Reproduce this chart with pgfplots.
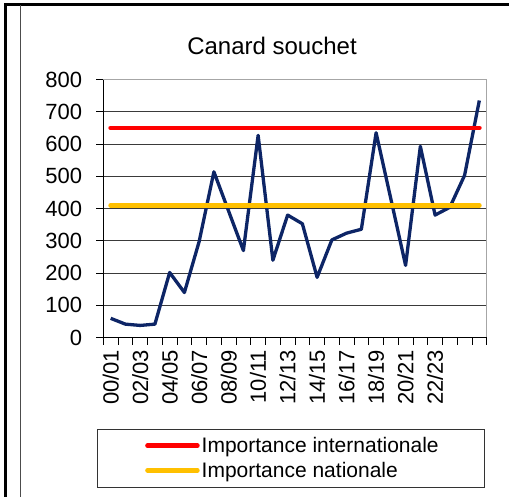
\documentclass[border=0pt]{standalone}
\usepackage{pgfplots}
\pgfplotsset{compat=1.18}
\usepackage{fontspec}
\setmainfont{Liberation Sans}
\definecolor{navy}{HTML}{0D2566}
\definecolor{gold}{HTML}{FFC000}
\definecolor{gridc}{HTML}{3A3A3A}
\pgfplotstableread{
i v
0 60
1 42
2 38
3 42
4 202
5 140
6 298
7 514
8 392
9 270
10 627
11 240
12 380
13 353
14 187
15 303
16 324
17 336
18 635
19 430
20 224
21 593
22 380
23 404
24 503
25 735
}\souchet
\pgfplotstableread{
i v
0 650
25 650
}\intl
\pgfplotstableread{
i v
0 410
25 410
}\natl
\begin{document}
\begin{tikzpicture}[x=1pt,y=1pt]
\useasboundingbox (0,0) rectangle (509,497);
\draw[black, line width=2.6pt] (5.3,0) -- (5.3,492.5);
\draw[black, line width=2.6pt] (4,492.5) -- (509,492.5);
\draw[gray!60!black, line width=1pt] (20,0) -- (20,492);
\node[font=\fontsize{24}{29}\selectfont] at (272,451) {Canard souchet};
\draw[gray!40!black, line width=1pt] (97,9) rectangle (484,67);
\begin{axis}[
  at={(103.3pt,159.3pt)}, anchor=south west,
  scale only axis, width=383.4pt, height=258.2pt,
  xmin=-0.5, xmax=25.5, ymin=0, ymax=800,
  ytick={0,100,...,800},
  xtick={0,2,...,22},
  xticklabels={00/01,02/03,04/05,06/07,08/09,10/11,12/13,14/15,16/17,18/19,20/21,22/23},
  minor xtick={-0.5,0.5,...,25.5},
  xtick pos=bottom, ytick pos=left,
  tick align=outside,
  major tick length=7pt, minor tick length=7pt,
  major x tick style={draw=none},
  tick style={black, line width=0.8pt},
  ymajorgrids, grid style={gridc, line width=0.8pt},
  axis line style={gray!70, line width=0.8pt},
  /pgf/number format/assume math mode=true,
  tick label style={font=\fontsize{22}{26}\selectfont},
  yticklabel style={inner sep=0pt, xshift=-14pt},
  xticklabel style={rotate=90, anchor=east, inner sep=0pt, xshift=-5pt},
  legend cell align=left,
  legend style={draw=none, fill=none, at={(0.1088,-0.466)}, anchor=west,
    font=\fontsize{21}{25}\selectfont, row sep=4pt, inner sep=0pt},
  legend image code/.code={\draw[#1, line width=4.5pt, line cap=round] (0pt,0pt) -- (50pt,0pt);},
  clip=false,
]
\addplot[navy, line width=3.3pt, line join=round, forget plot] table[x=i, y=v] {\souchet};
\addplot[red, line width=4.8pt, line cap=round] table[x=i, y=v] {\intl};
\addlegendentry{Importance internationale}
\addplot[gold, line width=4.8pt, line cap=round] table[x=i, y=v] {\natl};
\addlegendentry{Importance nationale}
\draw[black, line width=0.8pt] (rel axis cs:0,1) -- (rel axis cs:0,0) -- (rel axis cs:1,0);
\end{axis}
\end{tikzpicture}
\end{document}
